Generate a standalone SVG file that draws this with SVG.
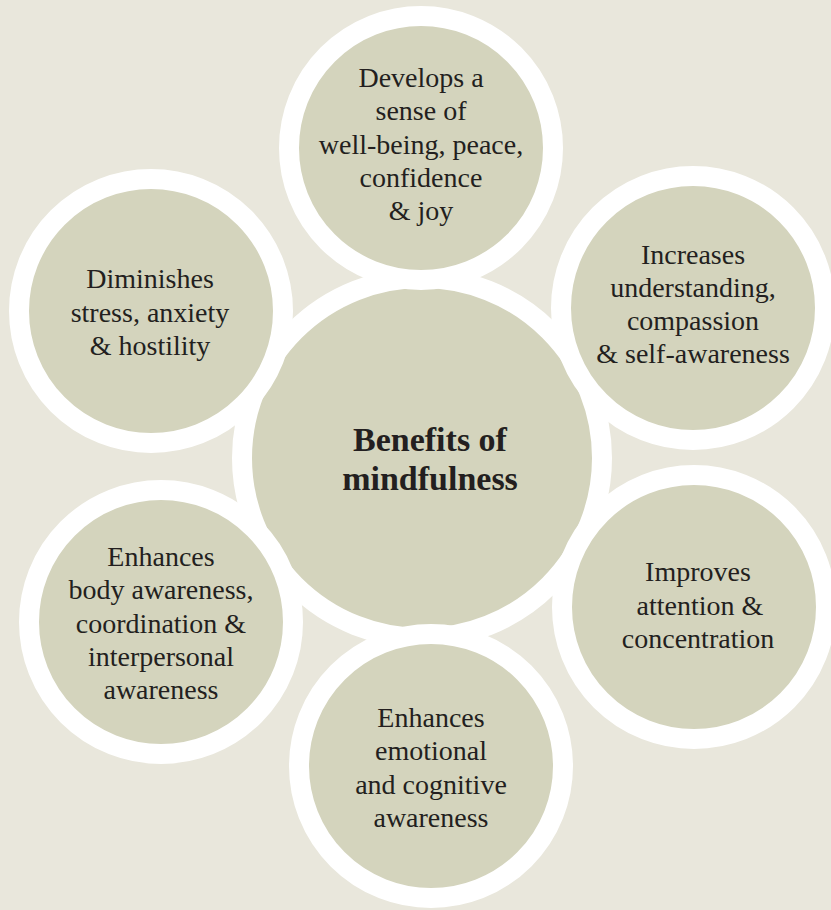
<svg xmlns="http://www.w3.org/2000/svg" width="831" height="910" viewBox="0 0 831 910">
<style>
.bg{fill:#e9e7dc}
.c{fill:#d4d4bd;stroke:#ffffff;stroke-width:20}
.t{font-family:"Liberation Serif","Times New Roman",serif;font-size:28px;fill:#231f20;text-anchor:middle}
.b{font-family:"Liberation Serif","Times New Roman",serif;font-size:34px;font-weight:bold;fill:#231f20;text-anchor:middle}
</style>
<rect class="bg" x="0" y="0" width="831" height="910"/>
<g id="center">
<circle class="c" cx="422" cy="458" r="180"/>
<text class="b" x="430" y="451">Benefits of</text>
<text class="b" x="430" y="490">mindfulness</text>
</g>
<g id="node-top">
<circle class="c" cx="421" cy="148" r="132"/>
<text class="t" x="421" y="87">Develops a</text>
<text class="t" x="421" y="120">sense of</text>
<text class="t" x="421" y="154">well-being, peace,</text>
<text class="t" x="421" y="187">confidence</text>
<text class="t" x="421" y="220">&amp; joy</text>
</g>
<g id="node-top-right">
<circle class="c" cx="693" cy="308" r="132"/>
<text class="t" x="693" y="264">Increases</text>
<text class="t" x="693" y="297">understanding,</text>
<text class="t" x="693" y="330">compassion</text>
<text class="t" x="693" y="363">&amp; self-awareness</text>
</g>
<g id="node-right">
<circle class="c" cx="694" cy="607" r="132"/>
<text class="t" x="698" y="581">Improves</text>
<text class="t" x="700" y="615">attention &amp;</text>
<text class="t" x="698" y="648">concentration</text>
</g>
<g id="node-bottom">
<circle class="c" cx="431" cy="766" r="132"/>
<text class="t" x="431" y="727">Enhances</text>
<text class="t" x="431" y="760">emotional</text>
<text class="t" x="431" y="794">and cognitive</text>
<text class="t" x="431" y="827">awareness</text>
</g>
<g id="node-bottom-left">
<circle class="c" cx="161" cy="622" r="132"/>
<text class="t" x="161" y="566">Enhances</text>
<text class="t" x="161" y="599">body awareness,</text>
<text class="t" x="161" y="633">coordination &amp;</text>
<text class="t" x="161" y="666">interpersonal</text>
<text class="t" x="161" y="699">awareness</text>
</g>
<g id="node-top-left">
<circle class="c" cx="151" cy="311" r="132"/>
<text class="t" x="150" y="288">Diminishes</text>
<text class="t" x="150" y="322">stress, anxiety</text>
<text class="t" x="150" y="355">&amp; hostility</text>
</g>
</svg>
